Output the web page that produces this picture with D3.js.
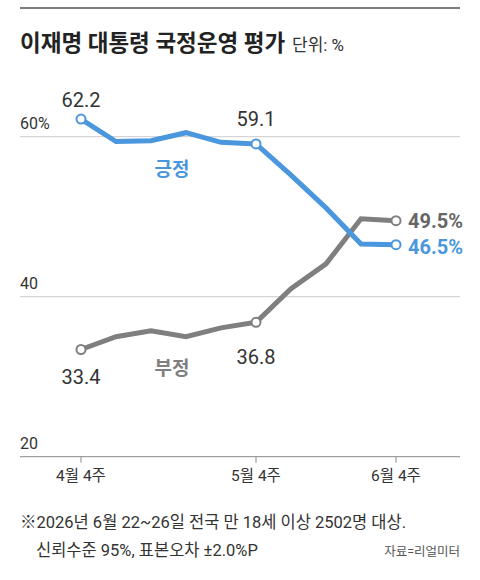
<!DOCTYPE html><html><head><meta charset="utf-8"><script src="https://cdn.jsdelivr.net/npm/d3@7"></script>
<style>body{margin:0;background:#fff}text{font-family:Roboto,"Noto Sans CJK KR",sans-serif}</style></head><body><svg id="c" width="480" height="580"></svg>
<script>
const weeks=[0,1,2,3,4,5,6,7,8,9];
const positive=[62.2,59.4,59.5,60.5,59.3,59.1,55.2,51.1,46.6,46.5];
const negative=[33.4,35.0,35.75,35.0,36.1,36.8,41.0,44.1,49.75,49.5];
const yTicks=[20,40,60];
const yTickLabels=["20","40","60%"];
const xTicks=[0,5,9];
const xTickLabels=["4월 4주","5월 4주","6월 4주"];
const svg=d3.select("#c");
const x=d3.scaleLinear().domain([0,9]).range([81,396]);
const y=d3.scaleLinear().domain([20,60]).range([456.7,136.7]);
svg.append("line").attr("x1",20).attr("x2",460).attr("y1",8).attr("y2",8).attr("stroke","#555").attr("stroke-width",1.5);
svg.append("text").attr("x",20).attr("y",51).attr("font-size",22.5).attr("font-weight",700).attr("fill","#222").text("이재명 대통령 국정운영 평가");
svg.append("text").attr("x",292).attr("y",51).attr("font-size",17).attr("fill","#333").text("단위: %");
yTicks.forEach((t,i)=>{
 svg.append("line").attr("x1",20).attr("x2",460).attr("y1",y(t)).attr("y2",y(t)).attr("stroke",t==20?"#888":"#ccc").attr("stroke-width",1);
 svg.append("text").attr("x",20).attr("y",y(t)-8).attr("font-size",16).attr("fill","#333").text(yTickLabels[i]);
});
xTicks.forEach((t,i)=>{
 svg.append("line").attr("x1",x(t)).attr("x2",x(t)).attr("y1",y(20)).attr("y2",y(20)+6).attr("stroke","#888");
 svg.append("text").attr("x",x(t)).attr("y",y(20)+24).attr("text-anchor","middle").attr("font-size",15.5).attr("fill","#333").text(xTickLabels[i]);
});
const line=d3.line().x((d,i)=>x(weeks[i])).y(d=>y(d));
const blue="#4a97dd",grey="#7f7f7f";
svg.append("path").datum(negative).attr("d",line).attr("fill","none").attr("stroke",grey).attr("stroke-width",5);
svg.append("path").datum(positive).attr("d",line).attr("fill","none").attr("stroke",blue).attr("stroke-width",5);
[[negative,grey],[positive,blue]].forEach(([s,c])=>{
 [0,5,9].forEach(i=>svg.append("circle").attr("cx",x(weeks[i])).attr("cy",y(s[i])).attr("r",4.5).attr("fill","#fff").attr("stroke",c).attr("stroke-width",2));
});
const lab=(tx,ty,t,c,fs,anchor,fw)=>svg.append("text").attr("x",tx).attr("y",ty).attr("font-size",fs).attr("fill",c).attr("text-anchor",anchor||"middle").attr("font-weight",fw||400).text(t);
lab(x(0),y(positive[0])-12,positive[0].toFixed(1),"#333",20);
lab(x(5),y(positive[5])-18,positive[5].toFixed(1),"#333",20);
lab(x(0),y(negative[0])+34,negative[0].toFixed(1),"#333",20);
lab(x(5),y(negative[5])+42,negative[5].toFixed(1),"#333",20);
lab(x(9)+12,y(negative[9])+7,negative[9].toFixed(1)+"%","#666",20,"start",700);
lab(x(9)+12,y(positive[9])+9,positive[9].toFixed(1)+"%",blue,20,"start",700);
lab(x(2.6),176,"긍정",blue,19,"middle",700);
lab(x(2.6),375,"부정",grey,19,"middle",700);
svg.append("text").attr("x",20).attr("y",528).attr("font-size",16.5).attr("fill","#333").text("※2026년 6월 22~26일 전국 만 18세 이상 2502명 대상.");
svg.append("text").attr("x",36).attr("y",556).attr("font-size",16.5).attr("fill","#333").text("신뢰수준 95%, 표본오차 ±2.0%P");
svg.append("text").attr("x",460).attr("y",556).attr("text-anchor","end").attr("font-size",12.5).attr("fill","#555").text("자료=리얼미터");
</script></body></html>
